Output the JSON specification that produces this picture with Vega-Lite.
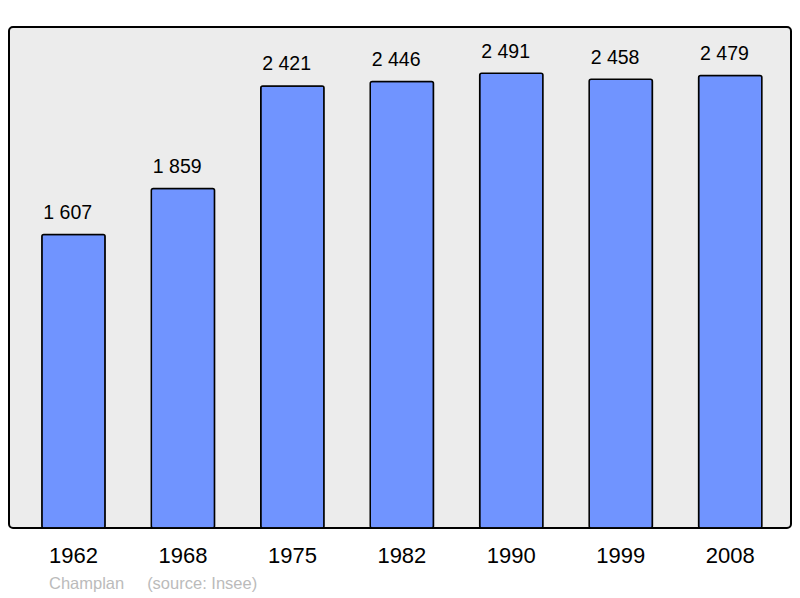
{
  "$schema": "https://vega.github.io/schema/vega-lite/v6.json",
  "autosize": "none",
  "width": 782,
  "height": 501,
  "padding": {"left": 9, "top": 27, "right": 9, "bottom": 70},
  "background": "white",
  "config": {
    "view": {"stroke": "black", "strokeWidth": 2, "fill": "#ececec", "cornerRadius": 4},
    "font": "Liberation Sans",
    "locale": {"number": {"decimal": ",", "thousands": " ", "grouping": [3], "currency": ["", " €"]}}
  },
  "title": {
    "text": "Champlan\u00a0\u00a0\u00a0\u00a0\u00a0(source: Insee)",
    "orient": "bottom",
    "anchor": "start",
    "frame": "group",
    "dx": 40,
    "offset": 9,
    "fontSize": 16.5,
    "fontWeight": "normal",
    "color": "#bbbbbb",
    "font": "Liberation Sans"
  },
  "data": {
    "values": [
      {"year": "1962", "pop": 1607},
      {"year": "1968", "pop": 1859},
      {"year": "1975", "pop": 2421},
      {"year": "1982", "pop": 2446},
      {"year": "1990", "pop": 2491},
      {"year": "1999", "pop": 2458},
      {"year": "2008", "pop": 2479}
    ]
  },
  "encoding": {
    "x": {
      "field": "year",
      "type": "ordinal",
      "sort": null,
      "scale": {"paddingInner": 0.422, "paddingOuter": 0.283, "align": 0.53},
      "axis": {
        "title": null,
        "domain": false,
        "ticks": false,
        "labelAngle": 0,
        "labelFontSize": 22,
        "labelColor": "black",
        "labelBaseline": "alphabetic",
        "labelPadding": 34.5,
        "labelFont": "Liberation Sans"
      }
    },
    "y": {
      "field": "pop",
      "type": "quantitative",
      "scale": {"domain": [0, 2744], "nice": false, "zero": true},
      "axis": null
    }
  },
  "layer": [
    {
      "mark": {"type": "bar", "fill": "#7094ff", "stroke": "black", "strokeWidth": 1.5, "cornerRadius": 2}
    },
    {
      "mark": {"type": "text", "align": "left", "baseline": "alphabetic", "dx": 1.5, "dy": -15.5, "fontSize": 19.5, "color": "black", "font": "Liberation Sans"},
      "encoding": {
        "x": {"field": "year", "type": "ordinal", "sort": null, "bandPosition": 0},
        "text": {"field": "pop", "type": "quantitative", "format": ","}
      }
    }
  ]
}
